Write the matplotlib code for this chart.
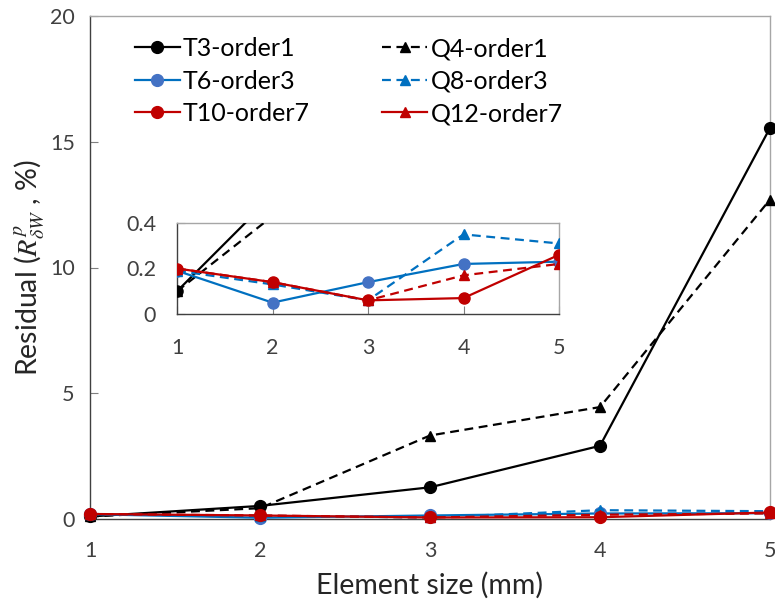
import numpy as np
import matplotlib
matplotlib.use("Agg")
import matplotlib.pyplot as plt
from matplotlib.lines import Line2D

plt.rcParams["font.family"] = ["Lato", "DejaVu Sans"]
plt.rcParams["mathtext.fontset"] = "stix"

# === DATA ===
element_size = [1, 2, 3, 4, 5]
t3_order1 = [0.10, 0.52, 1.26, 2.91, 15.55]
q4_order1 = [0.10, 0.43, 3.32, 4.45, 12.70]
t6_order3 = [0.19, 0.05, 0.14, 0.22, 0.23]
q8_order3 = [0.19, 0.13, 0.06, 0.35, 0.31]
t10_order7 = [0.20, 0.14, 0.06, 0.07, 0.26]
q12_order7 = [0.20, 0.14, 0.06, 0.17, 0.22]

main_yticks = [0, 5, 10, 15, 20]
inset_yticks = [0, 0.2, 0.4]
inset_yticklabels = ["0", "0.2", "0.4"]

BLACK = "#000000"
BLUE_LINE = "#0070C0"
BLUE_MARK = "#4472C4"
RED = "#C00000"
AXIS_GRAY = "#7F7F7F"
BORDER_GRAY = "#A6A6A6"
TEXT = "#262626"

series = [
    # label, values, line color, marker color, marker, linestyle
    ("T3-order1", t3_order1, BLACK, BLACK, "o", "-"),
    ("Q4-order1", q4_order1, BLACK, BLACK, "^", "--"),
    ("T6-order3", t6_order3, BLUE_LINE, BLUE_MARK, "o", "-"),
    ("Q8-order3", q8_order3, BLUE_LINE, BLUE_LINE, "^", "--"),
    ("T10-order7", t10_order7, RED, RED, "o", "-"),
    ("Q12-order7", q12_order7, RED, RED, "^", "--"),
]
DASH = (4, 2.5)


def draw_series(ax, ms_circle, ms_tri, lw, clip):
    for label, vals, lc, mc, mk, ls in series:
        ms = ms_circle if mk == "o" else ms_tri
        ax.plot(element_size, vals, color=lc, linestyle=ls, linewidth=lw,
                marker=mk, markersize=ms, markerfacecolor=mc,
                markeredgecolor=mc, dashes=DASH if ls == "--" else (None, None),
                clip_on=clip, zorder=3)


def style_axes(ax, xpad, ypad):
    ax.tick_params(axis="both", direction="in", length=6, width=0.8,
                   colors=AXIS_GRAY, labelcolor="#404040", labelsize=15.5)
    ax.tick_params(axis="x", pad=xpad)
    ax.tick_params(axis="y", pad=ypad)
    for side in ["left", "bottom"]:
        ax.spines[side].set_color("#404040")
        ax.spines[side].set_linewidth(1.0)
    for side in ["top", "right"]:
        ax.spines[side].set_color(BORDER_GRAY)
        ax.spines[side].set_linewidth(1.0)


fig = plt.figure(figsize=(7.75, 6.05), dpi=100)

# ---------------- main axes ----------------
main_ax = fig.add_axes([90 / 775, 1 - 519 / 605, 680 / 775, 503 / 605])
draw_series(main_ax, 8.5, 7.5, 1.6, clip=False)
main_ax.set_xlim(1, 5)
main_ax.set_ylim(0, 20)
main_ax.set_xticks(element_size)
main_ax.set_yticks(main_yticks)
style_axes(main_ax, 16, 11)
main_ax.set_xlabel("Element size (mm)", fontsize=20.5, color=TEXT, labelpad=8)
main_ax.set_ylabel(r"Residual ($R^{p}_{\delta W}$ , %)", fontsize=20.5,
                   color=TEXT, labelpad=2)

# legend: Q12 shows a solid handle in the reference
handles = []
for label, vals, lc, mc, mk, ls in series:
    hls = "--" if label in ("Q4-order1", "Q8-order3") else "-"
    handles.append(Line2D([], [], color=lc, linestyle=hls, linewidth=1.6,
                          marker=mk, markersize=8.5 if mk == "o" else 7.5,
                          markerfacecolor=mc, markeredgecolor=mc,
                          dashes=DASH if hls == "--" else (None, None)))
order = [0, 2, 4, 1, 3, 5]
main_ax.legend([handles[i] for i in order], [series[i][0] for i in order],
               ncol=2, frameon=False, fontsize=18, loc="upper left",
               bbox_to_anchor=(0.066, 0.958), borderaxespad=0, borderpad=0,
               handlelength=1.8, handletextpad=0.12, columnspacing=2.9,
               labelspacing=0.38)

# ---------------- inset ----------------
inset_ax = fig.add_axes([177 / 775, 1 - 314 / 605, 382 / 775, 91 / 605])
draw_series(inset_ax, 8.0, 7.5, 1.6, clip=True)
inset_ax.set_xlim(1, 5)
inset_ax.set_ylim(0, 0.4)
inset_ax.set_xticks(element_size)
inset_ax.set_yticks(inset_yticks)
inset_ax.set_yticklabels(inset_yticklabels)
style_axes(inset_ax, 17, 15)

fig.savefig("out.png", dpi=100)
